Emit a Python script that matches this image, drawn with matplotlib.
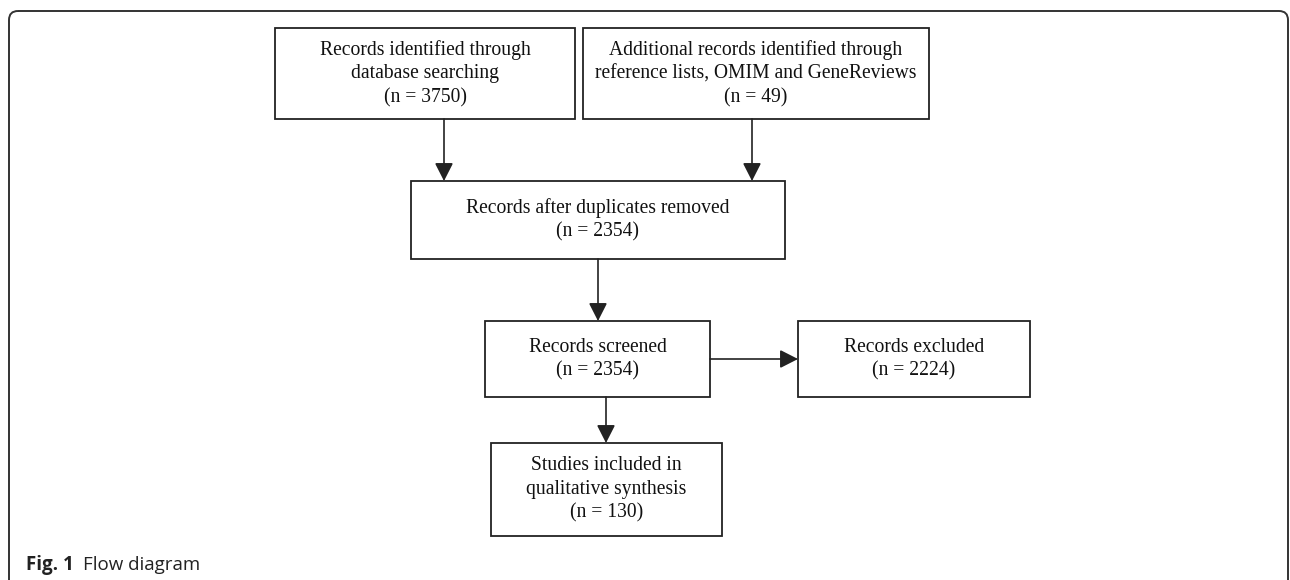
import matplotlib.pyplot as plt
from matplotlib.patches import Rectangle, FancyBboxPatch, FancyArrowPatch

# box texts and counts
labels = ['Records identified through\ndatabase searching',
          'Additional records identified through\nreference lists, OMIM and GeneReviews',
          'Records after duplicates removed',
          'Records screened',
          'Records excluded',
          'Studies included in\nqualitative synthesis']
counts = [3750, 49, 2354, 2354, 2224, 130]

# layout in pixels: x0, x1, y0, y1
boxes = [(275, 575, 28, 119),
         (583, 929, 28, 119),
         (411, 785, 181, 259),
         (485, 710, 321, 397),
         (798, 1030, 321, 397),
         (491, 722, 443, 536)]

fig = plt.figure(figsize=(12.9, 5.8), dpi=100)
ax = fig.add_axes([0, 0, 1, 1])
ax.set_xlim(0, 1290)
ax.set_ylim(580, 0)
ax.axis('off')

# outer frame (runs off the bottom of the image)
frame = FancyBboxPatch((9, 11), 1279, 600, boxstyle='round,pad=0,rounding_size=9',
                       fill=False, ec='#333333', lw=1.4)
ax.add_patch(frame)

for (x0, x1, y0, y1), lab, n in zip(boxes, labels, counts):
    ax.add_patch(Rectangle((x0, y0), x1 - x0, y1 - y0, fill=False, ec='#222222', lw=1.3))
    ax.text((x0 + x1) / 2, (y0 + y1) / 2, lab + '\n(n = %d)' % n, ha='center', va='center',
            family='Liberation Serif', fontsize=14.1, color='#111111', linespacing=1.32)

def arrow(p, q):
    ax.add_patch(FancyArrowPatch(p, q, arrowstyle='-|>,head_length=0.55,head_width=0.28',
                                 mutation_scale=20, color='#222222', lw=1.2,
                                 shrinkA=0, shrinkB=0))

arrow((444, 119), (444, 181))
arrow((752, 119), (752, 181))
arrow((598, 259), (598, 321))
arrow((606, 397), (606, 443))
arrow((710, 359), (798, 359))

ax.text(26, 565, 'Fig. 1', fontsize=13.5, fontweight='bold', family='Open Sans',
        va='center', ha='left', color='#222222')
ax.text(83, 565, 'Flow diagram', fontsize=13.5, family='Open Sans',
        va='center', ha='left', color='#222222')

fig.savefig('out.png', dpi=100)
